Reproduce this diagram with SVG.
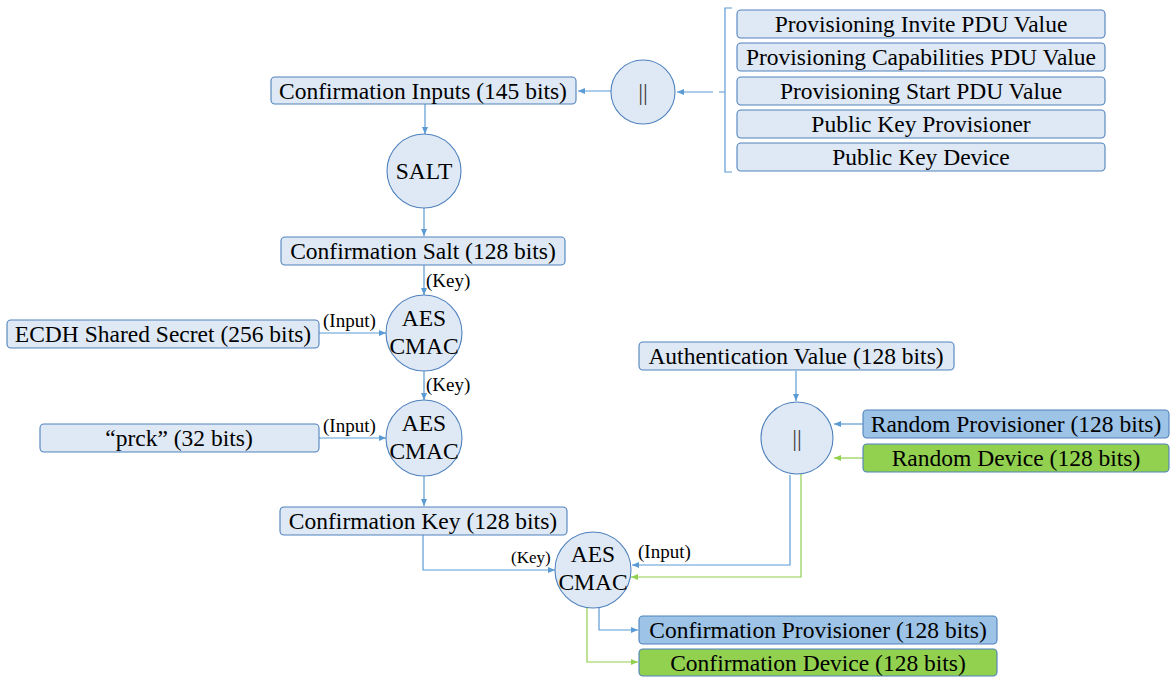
<svg xmlns="http://www.w3.org/2000/svg" width="1170" height="677" viewBox="0 0 1170 677">
<defs>
<marker id="ab" markerWidth="7" markerHeight="6" refX="7" refY="3" orient="auto" markerUnits="userSpaceOnUse"><path d="M0,0 L7,3 L0,6 z" fill="#5b9bd5"/></marker>
<marker id="ag" markerWidth="7" markerHeight="6" refX="7" refY="3" orient="auto" markerUnits="userSpaceOnUse"><path d="M0,0 L7,3 L0,6 z" fill="#92d050"/></marker>
<style>
.box{fill:#dee9f5;stroke:#4f81bd;stroke-width:1.1}
.boxb{fill:#9dc3e6;stroke:#4f81bd;stroke-width:1.1}
.boxg{fill:#92d050;stroke:#4f81bd;stroke-width:1.1}
.circ{fill:#dee9f5;stroke:#4f81bd;stroke-width:1.1}
text{font-family:"Liberation Serif","Times New Roman",serif;fill:#000}
.t{font-size:23.5px;text-anchor:middle}
.ct{font-size:23.5px;text-anchor:middle}
.lbl{font-size:19px}
.or{font-size:24px;fill:#404040;text-anchor:middle}
.cb{fill:none;stroke:#5b9bd5;stroke-width:1.2;marker-end:url(#ab)}
.cg{fill:none;stroke:#92d050;stroke-width:1.2;marker-end:url(#ag)}
.br{fill:none;stroke:#5b9bd5;stroke-width:1.2}
</style>
</defs>
<rect width="1170" height="677" fill="#ffffff"/>

<g id="connectors">
<path class="br" d="M732,8 L725,8 L725,172 L732,172 M725,92 L719,92"/>
<path class="cb" d="M713,92 L677,92"/>
<path class="cb" d="M611,91 L578,91"/>
<path class="cb" d="M425,104 L425,134"/>
<path class="cb" d="M424,208 L424,236"/>
<path class="cb" d="M424,265 L424,295"/>
<path class="cb" d="M319,333 L386,333"/>
<path class="cb" d="M424,371 L424,400"/>
<path class="cb" d="M319,438 L386,438"/>
<path class="cb" d="M424,476 L424,506"/>
<path class="cb" d="M423,535 L423,570 L555,570"/>
<path class="cb" d="M796,371 L796,401"/>
<path class="cb" d="M863,424 L834,424"/>
<path class="cg" d="M863,458 L834,458"/>
<path class="cb" d="M790,475 L790,565 L632,565"/>
<path class="cg" d="M801,474 L801,577 L631,577"/>
<path class="cb" d="M599,607 L599,630 L638,630"/>
<path class="cg" d="M587,607 L587,662 L638,662"/>
<text class="lbl" x="426" y="287">(Key)</text>
<text class="lbl" x="323" y="327">(Input)</text>
<text class="lbl" x="426" y="391">(Key)</text>
<text class="lbl" x="323" y="432">(Input)</text>
<text class="lbl" x="511" y="563" style="font-size:17px">(Key)</text>
<text class="lbl" x="638" y="558">(Input)</text>
</g>

<g id="n-invite"><rect class="box" x="737" y="10" width="368" height="28" rx="4"/><text class="t" x="921" y="32">Provisioning Invite PDU Value</text></g>
<g id="n-capabilities"><rect class="box" x="737" y="43" width="368" height="28" rx="4"/><text class="t" x="921" y="65">Provisioning Capabilities PDU Value</text></g>
<g id="n-start"><rect class="box" x="737" y="77" width="368" height="28" rx="4"/><text class="t" x="921" y="99">Provisioning Start PDU Value</text></g>
<g id="n-pkprov"><rect class="box" x="737" y="110" width="368" height="28" rx="4"/><text class="t" x="921" y="132">Public Key Provisioner</text></g>
<g id="n-pkdev"><rect class="box" x="737" y="143" width="368" height="28" rx="4"/><text class="t" x="921" y="165">Public Key Device</text></g>

<g id="n-concat1"><circle class="circ" cx="643" cy="92" r="32"/><text class="or" x="643" y="100">||</text></g>
<g id="n-confinputs"><rect class="box" x="271" y="77" width="305" height="27" rx="4"/><text class="t" x="423" y="99">Confirmation Inputs (145 bits)</text></g>
<g id="n-salt"><circle class="circ" cx="424" cy="171" r="37"/><text class="ct" x="424" y="179">SALT</text></g>
<g id="n-confsalt"><rect class="box" x="281" y="237" width="284" height="28" rx="4"/><text class="t" x="423" y="259">Confirmation Salt (128 bits)</text></g>
<g id="n-aes1"><circle class="circ" cx="424" cy="333" r="38"/><text class="ct" x="424" y="326">AES</text><text class="ct" x="424" y="354">CMAC</text></g>
<g id="n-ecdh"><rect class="box" x="7" y="320" width="312" height="28" rx="4"/><text class="t" x="163" y="342">ECDH Shared Secret (256 bits)</text></g>
<g id="n-aes2"><circle class="circ" cx="424" cy="438" r="38"/><text class="ct" x="424" y="431">AES</text><text class="ct" x="424" y="459">CMAC</text></g>
<g id="n-prck"><rect class="box" x="40" y="424" width="279" height="28" rx="4"/><text class="t" x="179" y="446">“prck” (32 bits)</text></g>
<g id="n-confkey"><rect class="box" x="280" y="507" width="287" height="28" rx="4"/><text class="t" x="423" y="529">Confirmation Key (128 bits)</text></g>
<g id="n-aes3"><circle class="circ" cx="593" cy="570" r="38"/><text class="ct" x="593" y="562">AES</text><text class="ct" x="593" y="590">CMAC</text></g>
<g id="n-authval"><rect class="box" x="639" y="342" width="315" height="28" rx="4"/><text class="t" x="796" y="364">Authentication Value (128 bits)</text></g>
<g id="n-concat2"><circle class="circ" cx="797" cy="438" r="36"/><text class="or" x="797" y="446">||</text></g>
<g id="n-randprov"><rect class="boxb" x="863" y="410" width="306" height="28" rx="4"/><text class="t" x="1016" y="432">Random Provisioner (128 bits)</text></g>
<g id="n-randdev"><rect class="boxg" x="863" y="444" width="306" height="28" rx="4"/><text class="t" x="1016" y="466">Random Device (128 bits)</text></g>
<g id="n-confprov"><rect class="boxb" x="639" y="616" width="358" height="28" rx="4"/><text class="t" x="818" y="638">Confirmation Provisioner (128 bits)</text></g>
<g id="n-confdev"><rect class="boxg" x="639" y="649" width="358" height="27" rx="4"/><text class="t" x="818" y="671">Confirmation Device (128 bits)</text></g>
</svg>
